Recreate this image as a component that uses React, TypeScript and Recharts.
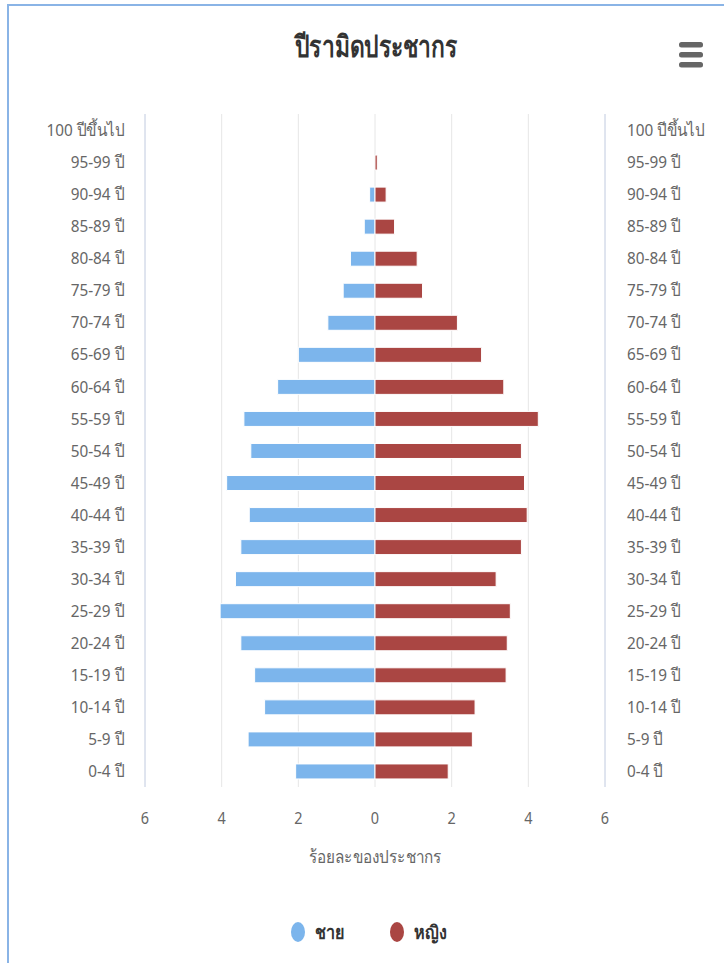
import React from 'react';
import { BarChart, Bar, XAxis, YAxis, CartesianGrid, Legend } from 'recharts';

const ageGroups = ['100 ปีขึ้นไป', '95-99 ปี', '90-94 ปี', '85-89 ปี', '80-84 ปี', '75-79 ปี', '70-74 ปี', '65-69 ปี', '60-64 ปี', '55-59 ปี', '50-54 ปี', '45-49 ปี', '40-44 ปี', '35-39 ปี', '30-34 ปี', '25-29 ปี', '20-24 ปี', '15-19 ปี', '10-14 ปี', '5-9 ปี', '0-4 ปี'];
const malePct = [0, 0, 0.14, 0.28, 0.64, 0.83, 1.23, 2.0, 2.54, 3.42, 3.24, 3.87, 3.28, 3.5, 3.64, 4.04, 3.5, 3.14, 2.88, 3.31, 2.07];
const femalePct = [0, 0.06, 0.29, 0.51, 1.1, 1.24, 2.15, 2.78, 3.36, 4.26, 3.82, 3.9, 3.97, 3.82, 3.16, 3.53, 3.45, 3.42, 2.61, 2.54, 1.91];
const xTicks = [-6, -4, -2, 0, 2, 4, 6];
const titleText = 'ปีรามิดประชากร';
const xAxisTitle = 'ร้อยละของประชากร';
const maleName = 'ชาย';
const femaleName = 'หญิง';

const MALE_COLOR = '#7cb5ec';
const FEMALE_COLOR = '#aa4643';
const FONT = "Tahoma, 'Noto Sans', 'DejaVu Sans', sans-serif";

const data = ageGroups.map((age, i) => ({ age, male: -malePct[i], female: femalePct[i] }));

const CatTick = (props: any) => {
  const { x, y, payload, anchor } = props;
  return (
    <g transform={`translate(${x},${y}) scale(0.9,1)`}>
      <text x={0} y={0} dy="0.36em" textAnchor={anchor} fill="#666" fontSize={17} fontFamily={FONT}>
        {payload.value}
      </text>
    </g>
  );
};

const NumTick = (props: any) => {
  const { x, y, payload } = props;
  return (
    <g transform={`translate(${x},${y}) scale(0.85,1)`}>
      <text x={0} y={0} dy="0.71em" textAnchor="middle" fill="#666" fontSize={17} fontFamily={FONT}>
        {String(Math.abs(payload.value))}
      </text>
    </g>
  );
};

const AxisTitle = (props: any) => {
  const vb = props.viewBox || {};
  const cx = vb.x + vb.width / 2;
  const cy = 857;
  return (
    <g transform={`translate(${cx},${cy}) scale(0.85,1)`}>
      <text x={0} y={0} dy="0.36em" textAnchor="middle" fill="#666" fontSize={18} fontFamily={FONT}>
        {xAxisTitle}
      </text>
    </g>
  );
};

const legendX = [298, 397];

const LegendContent = (props: any) => {
  const items = props.payload || [];
  return (
    <svg width={724} height={40} style={{ display: 'block' }}>
      {items.map((it: any, i: number) => (
        <g key={it.value}>
          <ellipse cx={legendX[i]} cy={20} rx={7} ry={10} fill={it.color} />
          <g transform={`translate(${legendX[i] + 17},20) scale(0.85,1)`}>
            <text x={0} y={0} dy="0.36em" fontSize={19} fontWeight="bold" fill="#333" fontFamily={FONT}>
              {it.value}
            </text>
          </g>
        </g>
      ))}
    </svg>
  );
};

export default function App() {
  return (
    <div style={{ position: 'absolute', left: 0, top: 0, width: 724, height: 963, overflow: 'hidden', background: '#fff', fontFamily: FONT }}>
      <div style={{ position: 'absolute', left: 7, top: 4, width: 800, height: 1100, border: '2px solid #8ab4e6', boxSizing: 'border-box' }} />
      <div style={{ position: 'absolute', left: 176, width: 400, top: 26, textAlign: 'center', fontSize: 30, lineHeight: '40px', color: '#333', fontWeight: 'bold', transform: 'scaleX(0.76)', transformOrigin: '200px 0' }}>
        {titleText}
      </div>
      <svg style={{ position: 'absolute', left: 679, top: 42 }} width={24} height={26}>
        <rect x={0} y={0} width={24} height={5.5} rx={2.5} fill="#666" />
        <rect x={0} y={10} width={24} height={5.5} rx={2.5} fill="#666" />
        <rect x={0} y={20} width={24} height={5.5} rx={2.5} fill="#666" />
      </svg>
      <div style={{ position: 'absolute', left: 0, top: 0 }}>
        <BarChart
          width={724}
          height={963}
          data={data}
          layout="vertical"
          stackOffset="sign"
          margin={{ top: 114, right: 0, bottom: 136, left: 0 }}
          barSize={15}
        >
          <CartesianGrid horizontal={false} stroke="#e6e6e6" />
          <XAxis
            type="number"
            domain={[-6, 6]}
            ticks={xTicks}
            axisLine={false}
            tickLine={false}
            tickSize={0}
            tickMargin={25}
            height={40}
            tick={<NumTick />}
            label={<AxisTitle />}
            allowDataOverflow
          />
          <YAxis
            yAxisId="left"
            type="category"
            dataKey="age"
            orientation="left"
            width={145}
            axisLine={{ stroke: '#ccd6eb' }}
            tickLine={false}
            tickSize={0}
            tickMargin={21}
            interval={0}
            tick={<CatTick anchor="end" />}
          />
          <YAxis
            yAxisId="right"
            type="category"
            dataKey="age"
            orientation="right"
            width={119}
            axisLine={{ stroke: '#ccd6eb' }}
            tickLine={false}
            tickSize={0}
            tickMargin={22}
            interval={0}
            tick={<CatTick anchor="start" />}
          />
          <Bar yAxisId="left" dataKey="male" name={maleName} stackId="a" fill={MALE_COLOR} stroke="#fff" strokeWidth={1} isAnimationActive={false} />
          <Bar yAxisId="left" dataKey="female" name={femaleName} stackId="a" fill={FEMALE_COLOR} stroke="#fff" strokeWidth={1} isAnimationActive={false} />
          <Legend
            layout="vertical"
            align="center"
            verticalAlign="middle"
            content={<LegendContent />}
            wrapperStyle={{ position: 'absolute', top: 912, left: 0, width: 724, height: 40 }}
          />
        </BarChart>
      </div>
    </div>
  );
}
